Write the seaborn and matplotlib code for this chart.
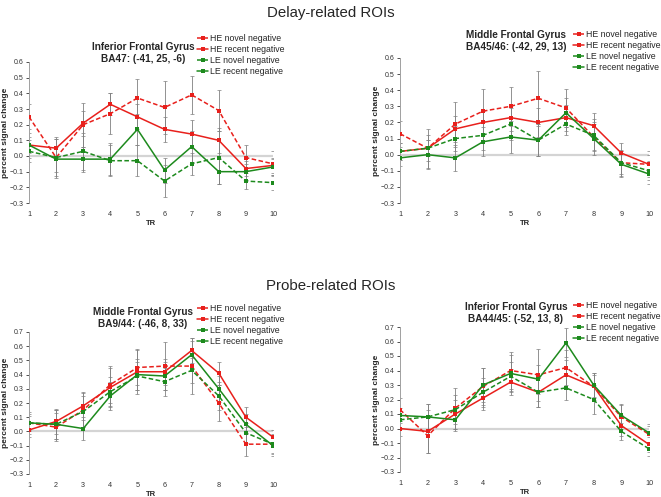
import numpy as np
import pandas as pd
import matplotlib
matplotlib.use("Agg")
import matplotlib.pyplot as plt
import seaborn as sns

sns.set_theme(style="white")
plt.rcParams['font.family'] = ['Liberation Sans', 'DejaVu Sans']

# TR axis
tr = list(range(1, 10 + 1))
series = ["HE novel negative", "HE recent negative", "LE novel negative", "LE recent negative"]

# Delay-related: Inferior Frontal Gyrus BA47
ifg47_he_novel = [0.25, -0.01, 0.20, 0.27, 0.37, 0.31, 0.39, 0.29, -0.01, -0.05]
ifg47_he_recent = [0.07, 0.05, 0.21, 0.33, 0.25, 0.17, 0.14, 0.10, -0.08, -0.06]
ifg47_le_novel = [0.03, -0.01, 0.03, -0.03, -0.03, -0.16, -0.05, -0.01, -0.16, -0.17]
ifg47_le_recent = [0.07, -0.02, -0.02, -0.02, 0.17, -0.09, 0.06, -0.10, -0.10, -0.07]
ifg47_err = [[0.08, 0.12, 0.14, 0.13, 0.12, 0.17, 0.12, 0.13, 0.08, 0.08],
             [0.08, 0.06, 0.08, 0.07, 0.08, 0.08, 0.09, 0.08, 0.05, 0.05],
             [0.07, 0.13, 0.12, 0.10, 0.10, 0.10, 0.07, 0.17, 0.05, 0.05],
             [0.05, 0.08, 0.08, 0.10, 0.10, 0.08, 0.10, 0.08, 0.05, 0.05]]

# Delay-related: Middle Frontal Gyrus BA45/46
mfg4546_he_novel = [0.13, 0.04, 0.19, 0.27, 0.30, 0.35, 0.29, 0.11, -0.05, -0.06]
mfg4546_he_recent = [0.02, 0.04, 0.16, 0.20, 0.23, 0.20, 0.23, 0.18, 0.01, -0.06]
mfg4546_le_novel = [0.02, 0.04, 0.10, 0.12, 0.19, 0.09, 0.19, 0.12, -0.05, -0.10]
mfg4546_le_recent = [-0.02, 0.00, -0.02, 0.08, 0.11, 0.09, 0.26, 0.10, -0.06, -0.12]
mfg4546_err = [[0.08, 0.12, 0.14, 0.14, 0.12, 0.17, 0.12, 0.08, 0.07, 0.08],
               [0.05, 0.05, 0.08, 0.07, 0.08, 0.09, 0.08, 0.08, 0.06, 0.06],
               [0.05, 0.08, 0.08, 0.09, 0.10, 0.10, 0.07, 0.10, 0.08, 0.06],
               [0.05, 0.09, 0.08, 0.09, 0.10, 0.10, 0.09, 0.10, 0.08, 0.06]]

# Probe-related: Middle Frontal Gyrus BA9/44
mfg944_he_novel = [0.06, 0.03, 0.15, 0.33, 0.45, 0.46, 0.46, 0.20, -0.09, -0.09]
mfg944_he_recent = [0.01, 0.07, 0.18, 0.31, 0.42, 0.42, 0.57, 0.41, 0.10, -0.04]
mfg944_le_novel = [0.06, 0.05, 0.14, 0.28, 0.39, 0.35, 0.43, 0.25, -0.01, -0.09]
mfg944_le_recent = [0.06, 0.05, 0.02, 0.25, 0.40, 0.39, 0.54, 0.30, 0.05, -0.10]
mfg944_err = [[0.08, 0.10, 0.12, 0.13, 0.12, 0.17, 0.20, 0.13, 0.08, 0.07],
              [0.05, 0.09, 0.10, 0.14, 0.16, 0.09, 0.09, 0.08, 0.07, 0.05],
              [0.06, 0.10, 0.11, 0.10, 0.10, 0.10, 0.09, 0.10, 0.07, 0.06],
              [0.05, 0.10, 0.08, 0.10, 0.11, 0.10, 0.10, 0.09, 0.07, 0.07]]

# Probe-related: Inferior Frontal Gyrus BA44/45
ifg4445_he_novel = [0.13, -0.05, 0.14, 0.29, 0.40, 0.37, 0.42, 0.29, 0.08, -0.04]
ifg4445_he_recent = [0.00, -0.02, 0.10, 0.21, 0.32, 0.25, 0.37, 0.29, 0.02, -0.11]
ifg4445_le_novel = [0.06, 0.08, 0.13, 0.25, 0.36, 0.25, 0.28, 0.20, -0.02, -0.14]
ifg4445_le_recent = [0.09, 0.08, 0.06, 0.30, 0.38, 0.34, 0.59, 0.30, 0.09, -0.03]
ifg4445_err = [[0.08, 0.12, 0.14, 0.13, 0.13, 0.18, 0.12, 0.09, 0.08, 0.06],
               [0.05, 0.15, 0.10, 0.08, 0.09, 0.10, 0.10, 0.08, 0.07, 0.05],
               [0.06, 0.09, 0.10, 0.10, 0.10, 0.10, 0.08, 0.10, 0.06, 0.05],
               [0.05, 0.09, 0.08, 0.12, 0.13, 0.10, 0.10, 0.08, 0.08, 0.06]]

RED = "#e8201c"
GREEN = "#1d8a1d"
palette = {series[0]: RED, series[1]: RED, series[2]: GREEN, series[3]: GREEN}
dashes = {series[0]: (3, 1.6), series[1]: "", series[2]: (3, 1.6), series[3]: ""}
markers = {s: "s" for s in series}

W, H = 661, 497
fig = plt.figure(figsize=(W / 100, H / 100), dpi=100)


def px_axes(left, right, top, bottom):
    return fig.add_axes([left / W, 1 - bottom / H, (right - left) / W, (bottom - top) / H])


panels = [
    dict(vals=[ifg47_he_novel, ifg47_he_recent, ifg47_le_novel, ifg47_le_recent], err=ifg47_err,
         title="Inferior Frontal Gyrus\nBA47: (-41, 25, -6)", box=(29, 273, 62, 203),
         ylim=(-0.3, 0.6), title_xy=(143, 53), leg_xy=(197, 34)),
    dict(vals=[mfg4546_he_novel, mfg4546_he_recent, mfg4546_le_novel, mfg4546_le_recent], err=mfg4546_err,
         title="Middle Frontal Gyrus\nBA45/46: (-42, 29, 13)", box=(400, 649, 58, 203),
         ylim=(-0.3, 0.6), title_xy=(516, 41), leg_xy=(573, 30)),
    dict(vals=[mfg944_he_novel, mfg944_he_recent, mfg944_le_novel, mfg944_le_recent], err=mfg944_err,
         title="Middle Frontal Gyrus\nBA9/44: (-46, 8, 33)", box=(29, 273, 332, 474),
         ylim=(-0.3, 0.7), title_xy=(143, 318), leg_xy=(197, 304)),
    dict(vals=[ifg4445_he_novel, ifg4445_he_recent, ifg4445_le_novel, ifg4445_le_recent], err=ifg4445_err,
         title="Inferior Frontal Gyrus\nBA44/45: (-52, 13, 8)", box=(400, 649, 327, 472),
         ylim=(-0.3, 0.7), title_xy=(516, 313), leg_xy=(573, 301)),
]

for p in panels:
    ax = px_axes(*p["box"])
    rows = []
    for name, v in zip(series, p["vals"]):
        for t, y in zip(tr, v):
            rows.append({"TR": t, "value": y, "series": name})
    df = pd.DataFrame(rows)

    ax.axhline(0, color="#d4d4d4", lw=1.6, zorder=0)
    # error bars
    for name, v, e in zip(series, p["vals"], p["err"]):
        ax.errorbar(tr, v, yerr=e, fmt="none", ecolor="#808080", elinewidth=0.6,
                    capsize=1.2, capthick=0.5, zorder=1)

    sns.lineplot(data=df, x="TR", y="value", hue="series", style="series",
                 palette=palette, dashes=dashes, markers=markers, markersize=3.3,
                 markeredgewidth=0, linewidth=1.1, ax=ax, zorder=3)

    handles, labels = ax.get_legend_handles_labels()
    ax.legend(handles, labels, loc="upper left", bbox_transform=fig.transFigure,
              bbox_to_anchor=(p["leg_xy"][0] / W, 1 - p["leg_xy"][1] / H),
              frameon=False, fontsize=6.3, handlelength=1.3, handletextpad=0.15,
              labelspacing=0.22, borderpad=0, borderaxespad=0)

    ax.set_xlim(1, 10)
    ax.set_ylim(*p["ylim"])
    ax.set_xticks(tr)
    ax.set_yticks(np.round(np.arange(p["ylim"][0], p["ylim"][1] + 0.01, 0.1), 1))
    ax.tick_params(axis="x", length=0, labelsize=5.2, pad=6, colors="#333333")
    ax.tick_params(axis="y", length=2.5, width=0.6, labelsize=5.0, pad=1.5,
                   colors="#333333", left=True, direction="out")
    for s in ["top", "right", "bottom"]:
        ax.spines[s].set_visible(False)
    ax.spines["left"].set_color("#a0a0a0")
    ax.spines["left"].set_linewidth(0.7)
    ax.set_xlabel("TR", fontsize=5.5, fontweight="bold", labelpad=1)
    ax.set_ylabel("percent signal change", fontsize=6.0, fontweight="bold")
    ax.yaxis.set_label_coords(-0.082, 0.5)
    ax.set_facecolor("none")

    fig.text(p["title_xy"][0] / W, 1 - p["title_xy"][1] / H, p["title"], ha="center", va="center",
             fontsize=7.2, fontweight="bold", linespacing=1.2)

fig.text(0.5, 1 - 13 / H, "Delay-related ROIs", ha="center", va="center", fontsize=10.8)
fig.text(0.5, 1 - 286 / H, "Probe-related ROIs", ha="center", va="center", fontsize=10.8)

fig.savefig("out.png", dpi=100)
